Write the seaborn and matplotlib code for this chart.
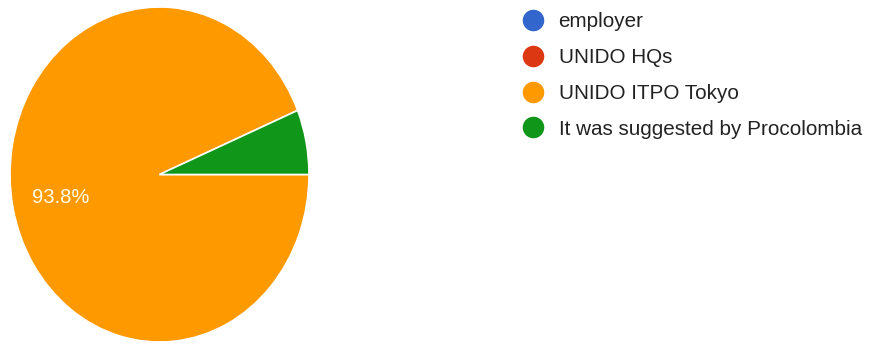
import matplotlib
matplotlib.use("Agg")
import matplotlib.pyplot as plt
from matplotlib.lines import Line2D
import seaborn as sns

categories = ["employer", "UNIDO HQs", "UNIDO ITPO Tokyo", "It was suggested by Procolombia"]
counts = [0, 0, 15, 1]
colors = ["#3366cc", "#dc3912", "#ff9900", "#109618"]

sns.set_theme(style="white")
plt.rcParams["font.family"] = ["Liberation Sans", "DejaVu Sans"]
palette = sns.color_palette(colors)

W, H = 874, 349
fig = plt.figure(figsize=(W / 100, H / 100), dpi=100)
ax = fig.add_axes([10 / W, 7 / H, 299 / W, 335 / H])

def fmt(p):
    return f"{p:.1f}%" if p >= 10 else ""

wedges, texts, autotexts = ax.pie(
    counts, colors=palette, startangle=0, counterclock=False,
    autopct=fmt, pctdistance=0.68,
    wedgeprops=dict(edgecolor="white", linewidth=1.2),
    textprops=dict(color="#fffbe8", fontsize=14.5),
)
for t in autotexts:
    if t.get_text():
        t.set_position((-0.66, -0.135))
ax.set_aspect("auto")
ax.set_xlim(-1, 1)
ax.set_ylim(-1, 1)
ax.axis("off")

handles = [Line2D([0], [0], marker="o", linestyle="", markersize=14.5,
                  markerfacecolor=c, markeredgecolor=c) for c in palette]
leg = fig.legend(handles, categories, loc="upper left",
                 bbox_to_anchor=(508 / W, 1 + 2.5 / H), frameon=False,
                 fontsize=14.85, labelspacing=0.82, handlelength=1.0,
                 handletextpad=0.75, borderpad=0.2, labelcolor="#222222")

fig.savefig("out.png", dpi=100, facecolor="white")
